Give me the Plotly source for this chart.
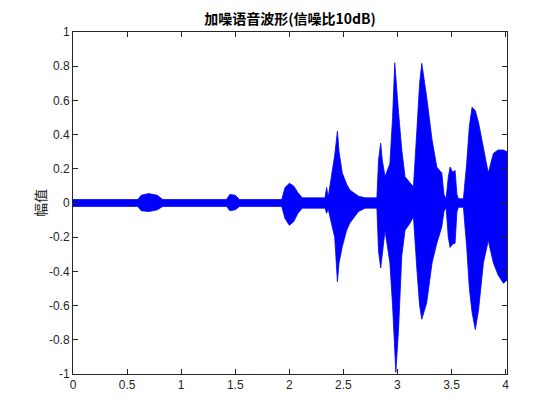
import plotly.graph_objects as go

# Envelope of the noisy speech waveform (time in s, upper / lower amplitude)
t_env = [0.00, 0.60, 0.63, 0.70, 0.78, 0.83, 1.42, 1.45, 1.50, 1.54,
         1.93, 1.96, 2.00, 2.04, 2.08, 2.12, 2.33, 2.345, 2.36, 2.39,
         2.42, 2.445, 2.46, 2.49, 2.53, 2.56, 2.64, 2.70, 2.81, 2.825,
         2.845, 2.86, 2.885, 2.93, 2.955, 2.975, 2.985, 3.01, 3.04, 3.07,
         3.117, 3.148, 3.18, 3.205, 3.225, 3.27, 3.32, 3.364, 3.41, 3.43,
         3.45, 3.47, 3.487, 3.51, 3.533, 3.55, 3.564, 3.61, 3.64, 3.665,
         3.69, 3.72, 3.75, 3.795, 3.84, 3.887, 3.93, 3.98, 4.013]
upper = [0.02, 0.02, 0.045, 0.055, 0.045, 0.02, 0.02, 0.05, 0.045, 0.02,
         0.02, 0.09, 0.115, 0.10, 0.06, 0.03, 0.03, 0.09, 0.035, 0.15,
         0.28, 0.42, 0.30, 0.175, 0.11, 0.076, 0.04, 0.03, 0.03, 0.25,
         0.35, 0.25, 0.154, 0.23, 0.50, 0.82, 0.75, 0.53, 0.31, 0.154,
         0.117, 0.095, 0.43, 0.70, 0.817, 0.62, 0.37, 0.21, 0.175, 0.05,
         0.025, 0.15, 0.21, 0.18, 0.19, 0.05, 0.025, 0.025, 0.23, 0.45,
         0.56, 0.54, 0.47, 0.33, 0.175, 0.29, 0.31, 0.31, 0.30]
lower = [-0.02, -0.02, -0.045, -0.05, -0.04, -0.02, -0.02, -0.045, -0.04, -0.02,
         -0.02, -0.09, -0.13, -0.11, -0.06, -0.03, -0.03, -0.06, -0.035, -0.12,
         -0.20, -0.46, -0.35, -0.255, -0.16, -0.117, -0.05, -0.03, -0.03, -0.28,
         -0.38, -0.30, -0.16, -0.35, -0.60, -0.85, -0.99, -0.74, -0.31, -0.16,
         -0.117, -0.08, -0.39, -0.60, -0.68, -0.585, -0.35, -0.235, -0.14, -0.05,
         -0.025, -0.20, -0.26, -0.24, -0.235, -0.05, -0.025, -0.025, -0.255, -0.50,
         -0.64, -0.74, -0.625, -0.35, -0.22, -0.35, -0.42, -0.47, -0.45]

x_ticks = [0, 0.5, 1, 1.5, 2, 2.5, 3, 3.5, 4]
x_labels = ["0", "0.5", "1", "1.5", "2", "2.5", "3", "3.5", "4"]
y_ticks = [1, 0.8, 0.6, 0.4, 0.2, 0, -0.2, -0.4, -0.6, -0.8, -1]
y_labels = ["1", "0.8", "0.6", "0.4", "0.2", "0", "-0.2", "-0.4", "-0.6", "-0.8", "-1"]

title = "加噪语音波形(信噪比10dB)"
ylabel = "幅值"

fig = go.Figure()
fig.add_trace(go.Scatter(
    x=t_env + t_env[::-1],
    y=upper + lower[::-1],
    fill="toself",
    fillcolor="#0000ff",
    line=dict(color="#0000ff", width=0.8),
    mode="lines",
    hoverinfo="skip",
    showlegend=False,
))

axis_common = dict(
    showline=True, linecolor="#262626", linewidth=1, mirror="ticks",
    ticks="inside", ticklen=5, tickcolor="#262626", showgrid=False, zeroline=False,
    tickfont=dict(family="Liberation Sans, Arial, sans-serif", size=12, color="#262626"),
)

# page body has an 8px default margin, so the figure is 552x412 with offsets
W, H = 552, 412
ML, MR, MT, MB = 65, 53, 24, 46
PW = W - ML - MR

fig.update_layout(
    width=W, height=H,
    margin=dict(l=ML, r=MR, t=MT, b=MB),
    paper_bgcolor="white", plot_bgcolor="white",
    title=dict(text="<b>" + title + "</b>", x=(ML + PW / 2) / W, xanchor="center",
               y=1 - 11 / H, yanchor="middle",
               font=dict(family="Noto Sans CJK SC, Liberation Sans, sans-serif", size=14, color="#000000")),
    xaxis=dict(range=[0, 4.013], tickvals=x_ticks, ticktext=x_labels, **axis_common),
    yaxis=dict(range=[-1, 1], tickvals=y_ticks, ticktext=y_labels, **axis_common),
    annotations=[dict(
        text=ylabel, xref="paper", yref="paper", x=(32 - ML) / PW, y=0.5,
        xanchor="center", yanchor="middle", textangle=-90, showarrow=False,
        font=dict(family="Noto Sans CJK SC, sans-serif", size=14, color="#262626"),
    )],
)

fig.write_html("out.html")
